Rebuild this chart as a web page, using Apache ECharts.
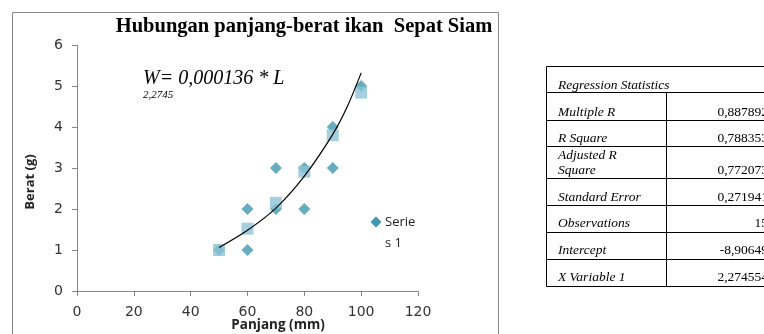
<!DOCTYPE html>
<html>
<head>
<meta charset="utf-8">
<script src="https://cdn.jsdelivr.net/npm/echarts@6/dist/echarts.min.js"></script>
<style>
html,body{margin:0;padding:0;background:#fff;}
#c{width:764px;height:334px;}
</style>
</head>
<body>
<div id="c"></div>
<script>
// Observed data (diamonds)
const obsX = [50, 60, 60, 70, 70, 80, 80, 90, 90, 100];
const obsY = [1, 1, 2, 3, 2, 3, 2, 4, 3, 5];
// Predicted values (squares)
const predX = [50, 60, 70, 80, 90, 100];
const predY = [1.0, 1.52, 2.15, 2.91, 3.80, 4.84];
// Trend line
const trendX = [50, 60, 70, 80, 90, 95, 100];
const trendY = [1.06, 1.48, 2.02, 2.8, 3.82, 4.48, 5.32];

const titleText = 'Hubungan panjang-berat ikan  Sepat Siam';
const equationText = 'W= 0,000136 * L';
const exponentText = '2,2745';
const xName = 'Panjang (mm)';
const yName = 'Berat (g)';
const legendLines = ['Serie', 's 1'];

const tableHeader = 'Regression Statistics';
const tableLabels = [['Multiple R'], ['R Square'], ['Adjusted R', 'Square'], ['Standard Error'], ['Observations'], ['Intercept'], ['X Variable 1']];
const tableValues = ['0,887892', '0,788353', '0,772073', '0,271941', '15', '-8,90649', '2,274554'];

const zip = (a, b) => a.map((v, i) => [v, b[i]]);

// table geometry
const tblLeft = 546.5, tblRight = 780, tblTop = 66.5, tblHead = 92.5, colX = 666.5;
const rowLines = [120.5, 146.5, 178.5, 205.5, 232.5, 259.5, 286.5];
const graphics = [];
graphics.push({type:'rect', shape:{x:12.5, y:12.5, width:486, height:340}, style:{fill:'none', stroke:'#8a8a8a', lineWidth:1}, silent:true});
graphics.push({type:'text', style:{text:titleText, x:304, y:27, align:'center', verticalAlign:'middle', font:'bold 20.5px "Liberation Serif"', fill:'#000'}});
graphics.push({type:'text', style:{text:equationText, x:143, y:78.5, align:'left', verticalAlign:'middle', font:'italic 20px "Liberation Serif"', fill:'#000'}});
graphics.push({type:'text', style:{text:exponentText, x:143, y:95.5, align:'left', verticalAlign:'middle', font:'italic 11px "Liberation Serif"', fill:'#000'}});
graphics.push({type:'text', style:{text:xName, x:278, y:325, align:'center', verticalAlign:'middle', font:'bold 13.5px "Open Sans"', fill:'#222'}});
graphics.push({type:'text', rotation:Math.PI/2, x:30.5, y:182, style:{text:yName, x:0, y:0, align:'center', verticalAlign:'middle', font:'bold 13px "Open Sans"', fill:'#222'}});
graphics.push({type:'polygon', shape:{points:[[376,216.5],[381.5,222],[376,227.5],[370.5,222]]}, style:{fill:'#3e98af'}});
graphics.push({type:'text', style:{text:legendLines[0], x:385, y:222, align:'left', verticalAlign:'middle', font:'13px "Open Sans"', fill:'#222'}});
graphics.push({type:'text', style:{text:legendLines[1], x:385, y:243, align:'left', verticalAlign:'middle', font:'13px "Open Sans"', fill:'#222'}});

const ln = (x1,y1,x2,y2) => ({type:'line', shape:{x1,y1,x2,y2}, style:{stroke:'#000', lineWidth:1}, silent:true});
graphics.push(ln(tblLeft, tblTop, tblRight, tblTop));
graphics.push(ln(tblLeft, tblTop, tblLeft, 286.5));
graphics.push(ln(tblLeft, tblHead, tblRight, tblHead));
graphics.push(ln(colX, tblHead, colX, 286.5));
rowLines.forEach(y => graphics.push(ln(tblLeft, y, tblRight, y)));
const tFont = 'italic 13.5px "Liberation Serif"';
graphics.push({type:'text', style:{text:tableHeader, x:558, y:85.5, align:'left', verticalAlign:'middle', font:tFont, fill:'#000'}});
const baselines = [[116.5], [142.5], [160, 175], [201.5], [228], [255], [281.5]];
tableLabels.forEach((lines, i) => {
  lines.forEach((t, j) => {
    graphics.push({type:'text', style:{text:t, x:558, y:baselines[i][j] - 4.5, align:'left', verticalAlign:'middle', font:tFont, fill:'#000'}});
  });
  const b = baselines[i][baselines[i].length - 1];
  graphics.push({type:'text', style:{text:tableValues[i], x:768, y:b - 4.5, align:'right', verticalAlign:'middle', font:'13.5px "Liberation Serif"', fill:'#000'}});
});

const chart = echarts.init(document.getElementById('c'), null, {renderer:'canvas'});
const axisCommon = {
  axisLine:{show:true, onZero:false, lineStyle:{color:'#868686', width:1}},
  axisTick:{show:true, inside:false, length:5, lineStyle:{color:'#868686'}},
  splitLine:{show:false},
  axisLabel:{color:'#333', fontFamily:'DejaVu Sans', fontSize:14}
};
chart.setOption({
  animation:false,
  grid:{left:77, top:45, width:341, height:246, containLabel:false},
  xAxis:Object.assign({type:'value', min:0, max:120, interval:20}, axisCommon, {axisLabel:Object.assign({}, axisCommon.axisLabel, {margin:14})}),
  yAxis:Object.assign({type:'value', min:0, max:6, interval:1}, axisCommon, {axisLabel:Object.assign({}, axisCommon.axisLabel, {margin:14})}),
  series:[
    {type:'scatter', name:'Series 1', symbol:'diamond', symbolSize:12, itemStyle:{color:'#3e98af'}, data:zip(obsX, obsY)},
    {type:'scatter', name:'Predicted', symbol:'rect', symbolSize:12, itemStyle:{color:'#8dc3d6'}, data:zip(predX, predY)},
    {type:'line', name:'Trend', smooth:0.3, showSymbol:false, symbol:'none', lineStyle:{color:'#000', width:1.2}, data:zip(trendX, trendY)}
  ],
  graphic:graphics
});
</script>
</body>
</html>
